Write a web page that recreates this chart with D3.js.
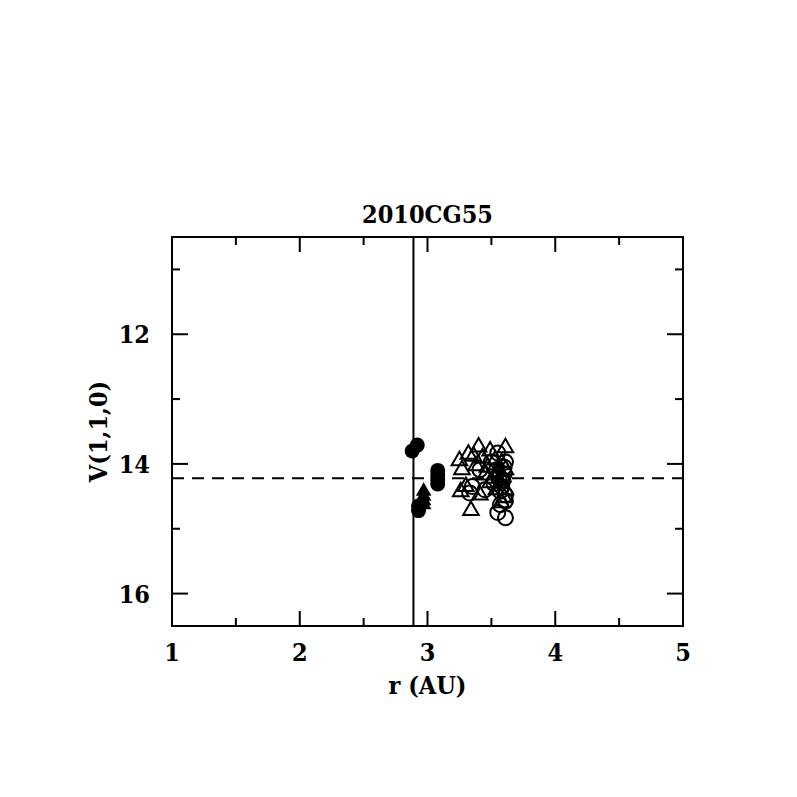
<!DOCTYPE html>
<html>
<head>
<meta charset="utf-8">
<script src="https://cdn.jsdelivr.net/npm/d3@7"></script>
<style>
  body { margin: 0; background: #fff; }
  text { font-family: "DejaVu Serif Condensed", "DejaVu Serif", serif; fill: #000; }
</style>
</head>
<body>
<div id="chart"></div>
<script>
var title = '2010CG55';
var xLabel = 'r (AU)';
var yLabel = 'V(1,1,0)';
var xTicks = [1, 2, 3, 4, 5];
var xMinor = [1.5, 2.5, 3.5, 4.5];
var yTicks = [12, 14, 16];
var yMinor = [11, 13, 15];
var rLine = 2.89;
var vMean = 14.22;

// filled circles
var fcR = [2.88, 2.92, 3.08, 3.08, 3.08, 3.08, 2.93, 2.93];
var fcV = [13.80, 13.71, 14.10, 14.17, 14.24, 14.31, 14.65, 14.72];
// filled triangles
var ftR = [2.97, 2.97, 2.97, 2.97];
var ftV = [14.42, 14.50, 14.57, 14.63];
// open triangles
var otR = [3.25, 3.32, 3.40, 3.49, 3.61, 3.27, 3.30, 3.26, 3.34, 3.38, 3.45, 3.43, 3.53, 3.49, 3.54, 3.61, 3.61, 3.41, 3.58, 3.59, 3.57, 3.60, 3.56, 3.36, 3.47, 3.52, 3.58];
var otV = [13.95, 13.85, 13.74, 13.80, 13.75, 14.09, 14.35, 14.43, 14.72, 14.03, 14.17, 13.91, 13.94, 14.29, 14.40, 14.09, 14.40, 14.48, 13.98, 14.20, 14.30, 14.52, 14.12, 13.88, 14.05, 14.22, 14.60];
// open circles
var ocR = [3.33, 3.35, 3.55, 3.50, 3.55, 3.61, 3.57, 3.59, 3.54, 3.61, 3.61, 3.45, 3.41, 3.60, 3.58, 3.61, 3.56, 3.52, 3.60, 3.57];
var ocV = [14.45, 14.35, 13.83, 13.97, 14.75, 14.83, 14.63, 14.25, 14.09, 13.97, 14.48, 14.40, 14.09, 14.15, 14.35, 14.57, 14.22, 14.30, 14.05, 14.42];

window.onload = function(){
	var svg = d3.select('#chart').append('svg').attr('width', 797).attr('height', 797);

	var left = 172, right = 683, top = 237, bottom = 626;
	var x = d3.scaleLinear().domain([1, 5]).range([left, right]);
	var y = d3.scaleLinear().domain([10.5, 16.5]).range([top, bottom]);

	var g = svg.append('g');

	// frame
	g.append('rect').attr('x', left).attr('y', top)
		.attr('width', right - left).attr('height', bottom - top)
		.attr('fill', 'none').attr('stroke', '#000').attr('stroke-width', 2);

	// ticks
	function xTick(v, len){
		g.append('line').attr('x1', x(v)).attr('x2', x(v)).attr('y1', bottom).attr('y2', bottom - len)
			.attr('stroke', '#000').attr('stroke-width', 2);
		g.append('line').attr('x1', x(v)).attr('x2', x(v)).attr('y1', top).attr('y2', top + len)
			.attr('stroke', '#000').attr('stroke-width', 2);
	}
	function yTick(v, len){
		g.append('line').attr('y1', y(v)).attr('y2', y(v)).attr('x1', left).attr('x2', left + len)
			.attr('stroke', '#000').attr('stroke-width', 2);
		g.append('line').attr('y1', y(v)).attr('y2', y(v)).attr('x1', right).attr('x2', right - len)
			.attr('stroke', '#000').attr('stroke-width', 2);
	}
	xTicks.forEach(function(v){ xTick(v, 15); });
	xMinor.forEach(function(v){ xTick(v, 8); });
	yTicks.forEach(function(v){ yTick(v, 16); });
	yMinor.forEach(function(v){ yTick(v, 8); });

	var fs = 25;
	// tick labels
	g.selectAll('.xl').data(xTicks).enter().append('text')
		.attr('x', function(d){ return x(d); }).attr('y', 661)
		.attr('text-anchor', 'middle').attr('font-size', fs).attr('font-weight', 'bold')
		.text(function(d){ return d; });
	g.selectAll('.yl').data(yTicks).enter().append('text')
		.attr('x', 150).attr('y', function(d){ return y(d) + 9; })
		.attr('text-anchor', 'end').attr('font-size', fs).attr('font-weight', 'bold')
		.text(function(d){ return d; });

	// axis titles
	svg.append('text').attr('x', (left + right) / 2).attr('y', 223)
		.attr('text-anchor', 'middle').attr('font-size', fs).attr('font-weight', 'bold').text(title);
	svg.append('text').attr('x', (left + right) / 2).attr('y', 694)
		.attr('text-anchor', 'middle').attr('font-size', fs).attr('font-weight', 'bold').text(xLabel);
	svg.append('text').attr('transform', 'translate(107,' + ((top + bottom) / 2) + ') rotate(-90)')
		.attr('text-anchor', 'middle').attr('font-size', fs).attr('font-weight', 'bold').text(yLabel);

	// reference lines
	g.append('line').attr('x1', x(rLine)).attr('x2', x(rLine)).attr('y1', top).attr('y2', bottom)
		.attr('stroke', '#000').attr('stroke-width', 2);
	g.append('line').attr('x1', left).attr('x2', right).attr('y1', y(vMean)).attr('y2', y(vMean))
		.attr('stroke', '#000').attr('stroke-width', 2).attr('stroke-dasharray', '12,8');

	function pts(rs, vs){ return rs.map(function(r, i){ return {r: r, v: vs[i]}; }); }
	var tri = d3.symbol().type(d3.symbolTriangle).size(105);

	g.selectAll('.oc').data(pts(ocR, ocV)).enter().append('circle')
		.attr('cx', function(d){ return x(d.r); }).attr('cy', function(d){ return y(d.v); })
		.attr('r', 7.5).attr('fill', 'none').attr('stroke', '#000').attr('stroke-width', 2);
	g.selectAll('.ot').data(pts(otR, otV)).enter().append('path')
		.attr('d', tri).attr('transform', function(d){ return 'translate(' + x(d.r) + ',' + y(d.v) + ')'; })
		.attr('fill', 'none').attr('stroke', '#000').attr('stroke-width', 2);
	g.selectAll('.fc').data(pts(fcR, fcV)).enter().append('circle')
		.attr('cx', function(d){ return x(d.r); }).attr('cy', function(d){ return y(d.v); })
		.attr('r', 7.5).attr('fill', '#000');
	g.selectAll('.ft').data(pts(ftR, ftV)).enter().append('path')
		.attr('d', tri).attr('transform', function(d){ return 'translate(' + x(d.r) + ',' + y(d.v) + ')'; })
		.attr('fill', '#000');
}
</script>
</body>
</html>
